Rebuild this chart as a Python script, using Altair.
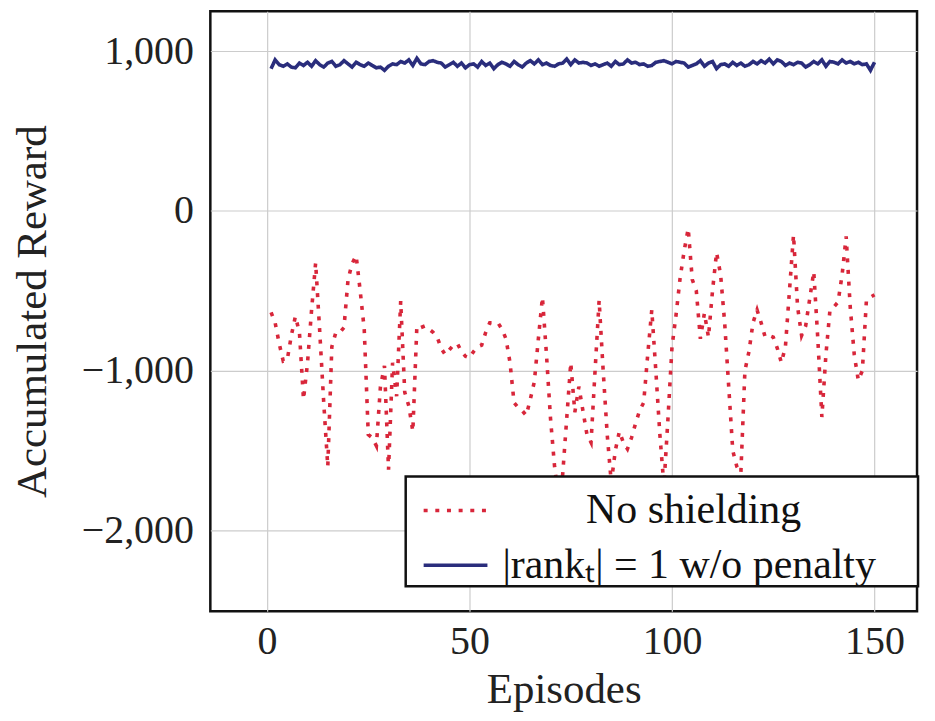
import altair as alt
import pandas as pd

# ---- data ----
NB = "\u00a0"
ZW = "\u200b"
# legend entries (spacing keeps the first label centred and the box wide, as in the reference)
series_names = [ZW + NB * 8 + "No shielding", "|rankₜ| = 1 w/o penalty" + NB * 4 + ZW]

red_values = [
    -635, -700, -830, -940, -930, -780, -660, -760, -1180, -950,
    -620, -325, -750, -1200, -1600, -850, -760, -760, -730, -430,
    -330, -280, -500, -740, -1400, -1420, -1470, -1100, -970, -1620,
    -950, -1160, -565, -1135, -1220, -1380, -720, -730, -720, -740,
    -760, -790, -860, -900, -870, -840, -830, -880, -910, -920,
    -880, -850, -840, -760, -700, -700, -700, -740, -800, -950,
    -1200, -1230, -1250, -1280, -1180, -1070, -800, -540, -900, -1300,
    -1600, -1800, -1650, -1300, -950, -1260, -1100, -1250, -1400, -1450,
    -1000, -560, -1000, -1400, -1700, -1500, -1380, -1450, -1490, -1420,
    -1330, -1250, -1200, -900, -620, -1000, -1400, -1720, -1300, -850,
    -650, -420, -250, -110, -430, -500, -800, -640, -790, -500,
    -260, -400, -700, -1100, -1500, -1600, -1640, -1000, -880, -700,
    -620, -700, -790, -780, -790, -860, -950, -850, -500, -150,
    -600, -780, -720, -550, -380, -800, -1290, -900, -620, -600,
    -570, -400, -160, -600, -900, -1060, -1000, -560, -540, -525,
]

blue_values = [
    890, 945, 915, 905, 920, 900, 895, 925, 910, 930,
    905, 940, 915, 900, 925, 935, 905, 915, 940, 920,
    900, 930, 915, 905, 925, 910, 895, 900, 880, 905,
    920, 915, 935, 925, 945, 910, 955, 920, 915, 935,
    940, 930, 925, 900, 915, 930, 905, 925, 895, 915,
    920, 900, 935, 910, 925, 890, 915, 930, 920, 905,
    935, 915, 900, 925, 940, 920, 945, 915, 925, 910,
    905, 920, 925, 950, 915, 945, 925, 930, 925, 910,
    920, 905, 915, 925, 905, 935, 915, 920, 945, 925,
    930, 915, 920, 905, 910, 930, 935, 940, 930, 920,
    935, 930, 925, 900, 910, 920, 940, 905, 925, 935,
    890, 915, 920, 905, 930, 910, 925, 905, 915, 935,
    920, 940, 925, 950, 920, 945, 935, 910, 925, 915,
    930, 925, 900, 915, 935, 920, 945, 905, 935, 930,
    920, 945, 925, 935, 920, 930, 915, 920, 880, 930,
]

red_episodes = list(range(1, len(red_values) + 1))
blue_episodes = list(range(1, len(blue_values) + 1))

x_ticks = [0, 50, 100, 150]
y_ticks = [-2000, -1000, 0, 1000]

rows = []
for e, v in zip(red_episodes, red_values):
    rows.append({"episode": e, "reward": v, "series": series_names[0]})
for e, v in zip(blue_episodes, blue_values):
    rows.append({"episode": e, "reward": v, "series": series_names[1]})
df = pd.DataFrame(rows)

FONT = "Liberation Serif, Times New Roman, serif"

shared_legend = dict(
    title=None, orient="none", legendX=196, legendY=467,
    symbolType="stroke", symbolSize=4096, symbolStrokeWidth=3.6,
    symbolOffset=16, labelFontSize=42, labelFont=FONT, labelColor="#111111",
    labelOffset=13, padding=0, rowPadding=-12,
    fillColor="white", strokeColor="#111111", labelLimit=700,
)

chart = alt.Chart(df).mark_line(strokeWidth=3.6).encode(
    x=alt.X("episode:Q",
            scale=alt.Scale(domain=[-14, 160.5], nice=False, zero=False),
            axis=alt.Axis(values=x_ticks, title="Episodes", format="d",
                          labelPadding=10, titleY=92, titleBaseline="alphabetic")),
    y=alt.Y("reward:Q",
            scale=alt.Scale(domain=[-2505, 1250], nice=False, zero=False),
            axis=alt.Axis(values=y_ticks, title="Accumulated Reward", format=",.0f",
                          labelPadding=17, titleAngle=-90, titleX=-178, titleY=301,
                          titleAlign="center", titleBaseline="middle")),
    color=alt.Color("series:N",
                    scale=alt.Scale(domain=series_names, range=["#d8263a", "#2a2d7c"]),
                    legend=alt.Legend(**shared_legend)),
    strokeDash=alt.StrokeDash("series:N",
                              scale=alt.Scale(domain=series_names, range=[[4, 7.7], [1, 0]]),
                              legend=alt.Legend(**shared_legend)),
    order="episode:Q",
).properties(
    width=709, height=602,
    autosize=alt.AutoSizeParams(type="none"),
    padding={"left": 203, "top": 2, "right": 10, "bottom": 100},
).configure_view(
    stroke="#111111", strokeWidth=2.5
).configure_axis(
    grid=True, gridColor="#cccccc", gridWidth=1.2, ticks=False, domain=False,
    labelFont=FONT, labelFontSize=40, labelColor="#222222",
    titleFont=FONT, titleFontSize=43, titleFontWeight="normal", titleColor="#222222",
).configure_legend(
    strokeWidth=2.5
)

chart.save("out.html", embed_options={"renderer": "svg", "actions": False})
